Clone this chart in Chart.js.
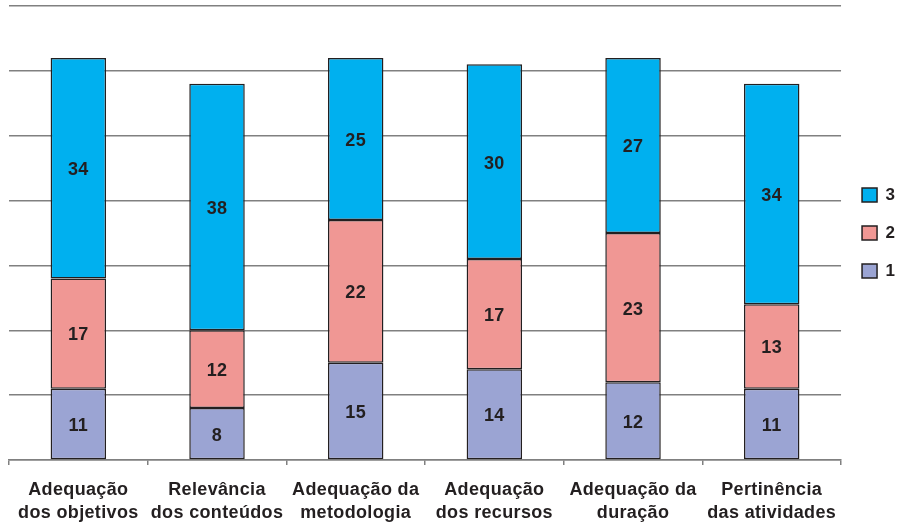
<!DOCTYPE html>
<html>
<head>
<meta charset="utf-8">
<script src="https://cdn.jsdelivr.net/npm/chart.js@4.4.0/dist/chart.umd.min.js"></script>
<style>
html,body{margin:0;padding:0;background:#fff;}
#wrap{width:905px;height:522px;}
</style>
</head>
<body>
<div id="wrap"><canvas id="c" width="905" height="522"></canvas></div>
<script>
const categories = [
  ["Adequação", "dos objetivos"],
  ["Relevância", "dos conteúdos"],
  ["Adequação da", "metodologia"],
  ["Adequação", "dos recursos"],
  ["Adequação da", "duração"],
  ["Pertinência", "das atividades"]
];
const series1 = [11, 8, 15, 14, 12, 11];
const series2 = [17, 12, 22, 17, 23, 13];
const series3 = [34, 38, 25, 30, 27, 34];
const seriesNames = ["1", "2", "3"];

const TEXT = '#231F20';
const FONT = "'Liberation Sans', Arial, sans-serif";

const spacing = {
  id: 'spacing',
  beforeDraw(chart) { chart.ctx.letterSpacing = '0.35px'; },
  afterDraw(chart) { chart.ctx.letterSpacing = '0px'; }
};

const dataLabels = {
  id: 'dataLabels',
  afterDatasetsDraw(chart) {
    const ctx = chart.ctx;
    ctx.save();
    ctx.font = 'bold 18px ' + FONT;
    ctx.fillStyle = TEXT;
    ctx.textAlign = 'center';
    ctx.textBaseline = 'middle';
    chart.data.datasets.forEach((ds, i) => {
      const meta = chart.getDatasetMeta(i);
      meta.data.forEach((bar, j) => {
        const y = (bar.y + bar.base) / 2;
        ctx.fillText(String(ds.data[j]), bar.x, y + 2);
      });
    });
    ctx.restore();
  }
};

new Chart(document.getElementById('c'), {
  type: 'bar',
  data: {
    labels: categories,
    datasets: [
      { label: seriesNames[0], data: series1, backgroundColor: '#9BA4D3', borderColor: TEXT, borderWidth: 1.5, borderSkipped: false },
      { label: seriesNames[1], data: series2, backgroundColor: '#F09794', borderColor: TEXT, borderWidth: 1.5, borderSkipped: false },
      { label: seriesNames[2], data: series3, backgroundColor: '#00B0EF', borderColor: TEXT, borderWidth: 1.5, borderSkipped: false }
    ]
  },
  options: {
    responsive: false,
    animation: false,
    devicePixelRatio: 1,
    layout: { padding: { left: 9, top: 6, right: 0, bottom: 0 } },
    datasets: { bar: { categoryPercentage: 1, barPercentage: 0.4 } },
    scales: {
      x: {
        stacked: true,
        afterFit(scale) { scale.height = 62; },
        grid: { offset: true, drawOnChartArea: false, drawTicks: true, tickLength: 5, color: '#808080', lineWidth: 1.5 },
        border: { display: true, color: '#808080', width: 1.5 },
        ticks: { color: TEXT, font: { family: FONT, size: 18, weight: 'bold', lineHeight: 1.3 }, padding: 13, maxRotation: 0, autoSkip: false }
      },
      y: {
        stacked: true,
        min: 0, max: 70,
        ticks: { display: false, stepSize: 10 },
        grid: { color: '#808080', lineWidth: 1.5, drawTicks: false },
        border: { display: false }
      }
    },
    plugins: {
      legend: {
        position: 'right',
        fullSize: false,
        reverse: true,
        labels: {
          color: TEXT,
          font: { family: FONT, size: 17, weight: 'bold' },
          boxWidth: 15, boxHeight: 14,
          padding: 21
        }
      },
      tooltip: { enabled: false }
    }
  },
  plugins: [spacing, dataLabels]
});
</script>
</body>
</html>
